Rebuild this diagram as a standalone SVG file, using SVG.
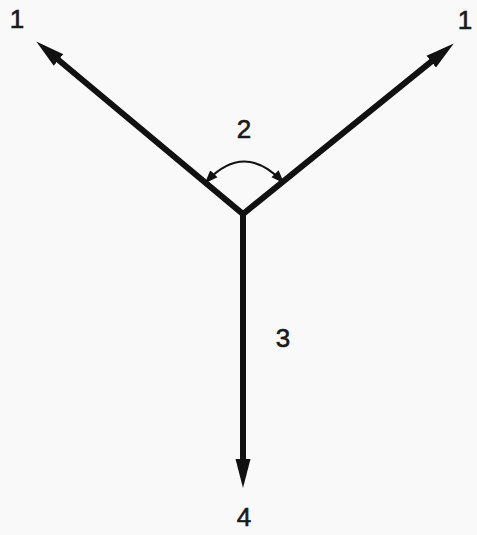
<svg xmlns="http://www.w3.org/2000/svg" width="477" height="535" viewBox="0 0 477 535">
<style>
.lbl{font-family:"Liberation Sans",Arial,sans-serif;font-size:26px;fill:#1a1a1a;stroke:#1a1a1a;stroke-width:0.6;text-anchor:middle}
.thick{stroke:#111;stroke-width:6;fill:none;stroke-linejoin:miter}
.thin{stroke:#111;stroke-width:2.2;fill:none}
</style>
<defs>
<marker id="big" markerUnits="userSpaceOnUse" markerWidth="32" markerHeight="18" viewBox="0 -9 32 18" refX="2" refY="0" orient="auto-start-reverse">
<path d="M0,-7.5 L29,0 L0,7.5 Z" fill="#111"/>
</marker>
<marker id="sm" markerUnits="userSpaceOnUse" markerWidth="16" markerHeight="12" viewBox="0 -6 16 12" refX="10" refY="0" orient="auto-start-reverse">
<path d="M0,-5 L13,0 L0,5 Z" fill="#111"/>
</marker>
</defs>
<rect width="477" height="535" fill="#f9f9f9"/>
<g id="connectors">
<path class="thick" d="M57,58.7 L243,214 L432.8,60.4" marker-start="url(#big)" marker-end="url(#big)"/>
<path class="thick" d="M243,214 L243,461" marker-end="url(#big)"/>
<path class="thin" d="M207,181 Q244,142 282,181" marker-start="url(#sm)" marker-end="url(#sm)"/>
</g>
<g id="label-1-left"><text class="lbl" x="17" y="28">1</text></g>
<g id="label-1-right"><text class="lbl" x="465" y="29">1</text></g>
<g id="label-2"><text class="lbl" x="244" y="138">2</text></g>
<g id="label-3"><text class="lbl" x="283" y="347">3</text></g>
<g id="label-4"><text class="lbl" x="244" y="526">4</text></g>
</svg>
